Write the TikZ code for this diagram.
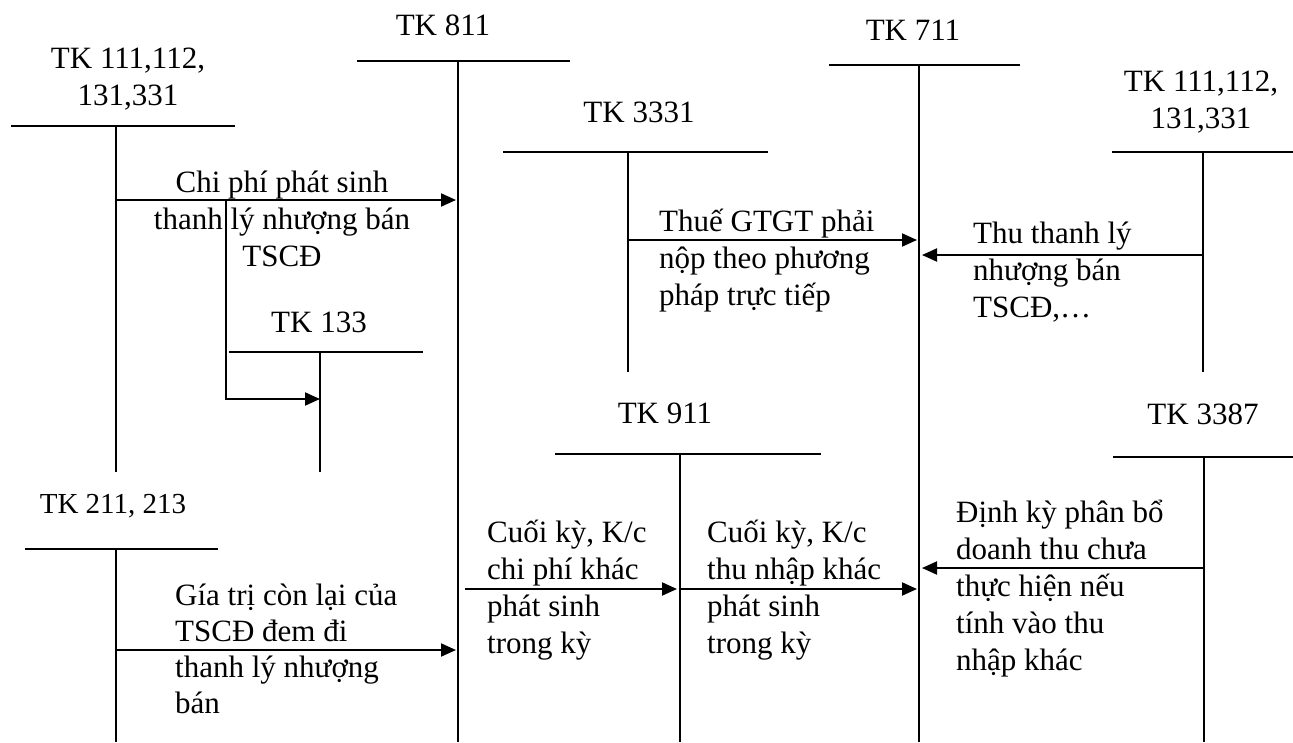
\documentclass[tikz,border=0pt]{standalone}
\usepackage{fontspec}
\setmainfont{Liberation Serif}
\usetikzlibrary{arrows.meta}
\begin{document}
% note: for multi-line nodes the base anchor is the baseline of the last line
\begin{tikzpicture}[x=1pt,y=-1pt,
  tline/.style={line width=1.3pt},
  flow/.style={line width=2pt,-{Triangle[length=15pt,width=13pt]}},
  title/.style={inner sep=0pt,align=center,anchor=base,font=\fontsize{31}{37}\selectfont},
  txt/.style={inner sep=0pt,align=left,anchor=base west,font=\fontsize{31}{37}\selectfont},
  ctxt/.style={inner sep=0pt,align=center,anchor=base,font=\fontsize{31}{37}\selectfont}]
\useasboundingbox (0,0) rectangle (1293,742);

% ---- T accounts ----
% A: TK 111 left
\node[title] (tA) at (128,105) {TK 111,112,\\131,331};
\coordinate (A1) at (11,126); \coordinate (A2) at (235,126);
\coordinate (At) at (116,126); \coordinate (Ab) at (116,472);
\draw[tline] (A1) -- (A2); \draw[tline] (At) -- (Ab);
% B: TK 811
\node[title] (tB) at (443,35) {TK 811};
\coordinate (B1) at (357,61); \coordinate (B2) at (570,61);
\coordinate (Bt) at (458,61); \coordinate (Bb) at (458,742);
\draw[tline] (B1) -- (B2); \draw[tline] (Bt) -- (Bb);
% C: TK 3331
\node[title] (tC) at (639,122) {TK 3331};
\coordinate (C1) at (503,152); \coordinate (C2) at (768,152);
\coordinate (Ct) at (628,152); \coordinate (Cb) at (628,372);
\draw[tline] (C1) -- (C2); \draw[tline] (Ct) -- (Cb);
% D: TK 711
\node[title] (tD) at (913,40) {TK 711};
\coordinate (D1) at (829,65); \coordinate (D2) at (1020,65);
\coordinate (Dt) at (919,65); \coordinate (Db) at (919,742);
\draw[tline] (D1) -- (D2); \draw[tline] (Dt) -- (Db);
% E: TK 111 right
\node[title] (tE) at (1201,128) {TK 111,112,\\131,331};
\coordinate (E1) at (1112,152); \coordinate (E2) at (1293,152);
\coordinate (Et) at (1203,152); \coordinate (Eb) at (1203,372);
\draw[tline] (E1) -- (E2); \draw[tline] (Et) -- (Eb);
% F: TK 133
\node[title] (tF) at (319,332) {TK 133};
\coordinate (F1) at (229,352); \coordinate (F2) at (423,352);
\coordinate (Ft) at (320,352); \coordinate (Fb) at (320,472);
\draw[tline] (F1) -- (F2); \draw[tline] (Ft) -- (Fb);
% G: TK 211, 213
\node[title,font=\fontsize{29}{35}\selectfont] (tG) at (113,513) {TK 211, 213};
\coordinate (G1) at (25,549); \coordinate (G2) at (218,549);
\coordinate (Gt) at (116,549); \coordinate (Gb) at (116,742);
\draw[tline] (G1) -- (G2); \draw[tline] (Gt) -- (Gb);
% H: TK 911
\node[title] (tH) at (665,423) {TK 911};
\coordinate (H1) at (555,454); \coordinate (H2) at (821,454);
\coordinate (Ht) at (680,454); \coordinate (Hb) at (680,742);
\draw[tline] (H1) -- (H2); \draw[tline] (Ht) -- (Hb);
% I: TK 3387
\node[title] (tI) at (1203,424) {TK 3387};
\coordinate (I1) at (1113,457); \coordinate (I2) at (1293,457);
\coordinate (It) at (1204,457); \coordinate (Ib) at (1204,742);
\draw[tline] (I1) -- (I2); \draw[tline] (It) -- (Ib);

% ---- flows ----
\coordinate (f1s) at (116,200); \coordinate (f1e) at (456,200);
\draw[flow] (f1s) -- (f1e);
\node[ctxt] (l1) at (282,266) {Chi phí phát sinh\\thanh lý nhượng bán\\TSCĐ};

\coordinate (f2s) at (226,201); \coordinate (f2c) at (226,399); \coordinate (f2e) at (320,399);
\draw[flow] (f2s) -- (f2c) -- (f2e);

\coordinate (f3s) at (116,650); \coordinate (f3e) at (456,650);
\draw[flow] (f3s) -- (f3e);
\node[txt,font=\fontsize{31}{36}\selectfont] (l3) at (175,713) {Gía trị còn lại của\\TSCĐ đem đi\\thanh lý nhượng\\bán};

\coordinate (f4s) at (628,240); \coordinate (f4e) at (917,240);
\draw[flow] (f4s) -- (f4e);
\node[txt] (l4) at (659,305) {Thuế GTGT phải\\nộp theo phương\\pháp trực tiếp};

\coordinate (f5s) at (1203,255); \coordinate (f5e) at (922,255);
\draw[flow] (f5s) -- (f5e);
\node[txt] (l5) at (973,317) {Thu thanh lý\\nhượng bán\\TSCĐ,…};

\coordinate (f6s) at (465,589); \coordinate (f6e) at (677,589);
\draw[flow] (f6s) -- (f6e);
\node[txt] (l6) at (487,653) {Cuối kỳ, K/c\\chi phí khác\\phát sinh\\trong kỳ};

\coordinate (f7s) at (680,589); \coordinate (f7e) at (917,589);
\draw[flow] (f7s) -- (f7e);
\node[txt] (l7) at (707,653) {Cuối kỳ, K/c\\thu nhập khác\\phát sinh\\trong kỳ};

\coordinate (f8s) at (1204,568); \coordinate (f8e) at (922,568);
\draw[flow] (f8s) -- (f8e);
\node[txt] (l8) at (956,670) {Định kỳ phân bổ\\doanh thu chưa\\thực hiện nếu\\tính vào thu\\nhập khác};
\end{tikzpicture}
\end{document}
